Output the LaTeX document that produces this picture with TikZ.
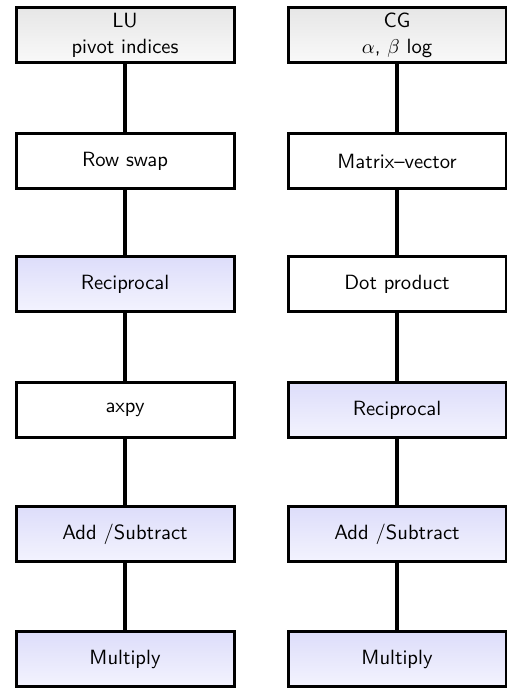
\documentclass[tikz,border=0pt]{standalone}
\usetikzlibrary{shadows}
\definecolor{lavtop}{RGB}{221,221,250}
\definecolor{lavbot}{RGB}{243,243,254}
\definecolor{gtop}{RGB}{230,230,230}
\definecolor{gbot}{RGB}{249,249,249}
\begin{document}
\begin{tikzpicture}[x=0.5pt,y=-0.5pt,
  box/.style={draw, line width=1.5pt, minimum width=109pt, minimum height=27.5pt,
    align=center, font=\sffamily\fontsize{10.3}{13}\selectfont, inner sep=2pt,
    drop shadow={shadow xshift=0.9pt, shadow yshift=-0.9pt, fill=black, opacity=0.4}},
  plainbox/.style={box, fill=white},
  hlbox/.style={box, top color=lavtop, bottom color=lavbot},
  headbox/.style={box, top color=gtop, bottom color=gbot},
  link/.style={line width=1.6pt}]
\useasboundingbox (0,0) rectangle (507,691);
% left column
\node[headbox]  (l1) at (125,35)  {LU\\pivot indices};
\node[plainbox] (l2) at (125,161) {Row swap};
\node[hlbox]    (l3) at (125,284) {Reciprocal};
\node[plainbox] (l4) at (125,410) {axpy};
\node[hlbox]    (l5) at (125,534) {Add /Subtract};
\node[hlbox]    (l6) at (125,659) {Multiply};
% right column
\node[headbox]  (r1) at (397,35)  {CG\\$\alpha$, $\beta$ log};
\node[plainbox] (r2) at (397,161) {Matrix--vector};
\node[plainbox] (r3) at (397,284) {Dot product};
\node[hlbox]    (r4) at (397,410) {Reciprocal};
\node[hlbox]    (r5) at (397,534) {Add /Subtract};
\node[hlbox]    (r6) at (397,659) {Multiply};
\foreach \a/\b in {l1/l2,l2/l3,l3/l4,l4/l5,l5/l6,r1/r2,r2/r3,r3/r4,r4/r5,r5/r6}
  \draw[link] (\a.south) -- (\b.north);
\end{tikzpicture}
\end{document}
